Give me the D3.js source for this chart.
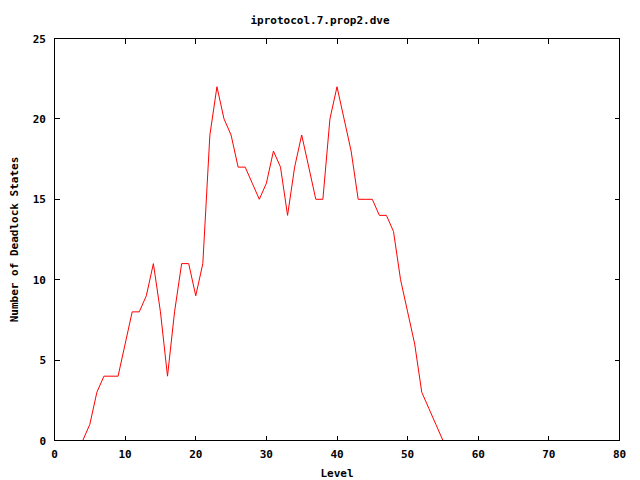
<!DOCTYPE html>
<html>
<head>
<meta charset="utf-8">
<script src="https://cdn.jsdelivr.net/npm/d3@7"></script>
<style>
  body { margin: 0; background: #fff; }
  text { font-family: "DejaVu Sans Mono", monospace; font-weight: bold; font-size: 11px; fill: #000; }
</style>
</head>
<body>
<svg width="640" height="480"></svg>
<script>
var svg = d3.select("svg");

const title = "iprotocol.7.prop2.dve";
const xLabel = "Level";
const yLabel = "Number of Deadlock States";

const levels = [4, 5, 6, 7, 8, 9, 10, 11, 12, 13, 14, 15, 16, 17, 18, 19, 20, 21, 22, 23, 24, 25, 26, 27, 28, 29,
	30, 31, 32, 33, 34, 35, 36, 37, 38, 39, 40, 41, 42, 43, 44, 45, 46, 47, 48, 49, 50, 51, 52, 53, 54, 55];
const deadlocks = [0, 1, 3, 4, 4, 4, 6, 8, 8, 9, 11, 8, 4, 8, 11, 11, 9, 11, 19, 22, 20, 19, 17, 17, 16, 15,
	16, 18, 17, 14, 17, 19, 17, 15, 15, 20, 22, 20, 18, 15, 15, 15, 14, 14, 13, 10, 8, 6, 3, 2, 1, 0];

const xTicks = [0, 10, 20, 30, 40, 50, 60, 70, 80];
const yTicks = [0, 5, 10, 15, 20, 25];

var x = d3.scaleLinear().domain([0, 80]).range([54.5, 619.5]);
var y = d3.scaleLinear().domain([0, 25]).range([440.5, 38.5]);

svg.append("rect").attr("width", 640).attr("height", 480).attr("fill", "#fff");

// title
svg.append("text")
	.attr("x", 320).attr("y", 24)
	.attr("text-anchor", "middle")
	.text(title);

// ticks (inward, mirrored)
const tickLen = 5;
var ticks = svg.append("g").attr("stroke", "#000").attr("shape-rendering", "crispEdges");
xTicks.slice(1, -1).forEach(function(t) {
	ticks.append("line").attr("x1", x(t)).attr("x2", x(t)).attr("y1", y(0)).attr("y2", y(0) - tickLen);
	ticks.append("line").attr("x1", x(t)).attr("x2", x(t)).attr("y1", y(25)).attr("y2", y(25) + tickLen);
});
yTicks.slice(1, -1).forEach(function(t) {
	ticks.append("line").attr("x1", x(0)).attr("x2", x(0) + tickLen).attr("y1", y(t)).attr("y2", y(t));
	ticks.append("line").attr("x1", x(80)).attr("x2", x(80) - tickLen).attr("y1", y(t)).attr("y2", y(t));
});

// tick labels
svg.append("g").selectAll("text")
	.data(xTicks)
	.enter()
	.append("text")
	.attr("x", function(d) { return x(d); })
	.attr("y", 458)
	.attr("text-anchor", "middle")
	.text(function(d) { return d; });

svg.append("g").selectAll("text")
	.data(yTicks)
	.enter()
	.append("text")
	.attr("x", 46)
	.attr("y", function(d) { return y(d) + 4; })
	.attr("text-anchor", "end")
	.text(function(d) { return d; });

// axis labels
svg.append("text")
	.attr("x", x(40)).attr("y", 477)
	.attr("text-anchor", "middle")
	.text(xLabel);

svg.append("text")
	.attr("transform", "translate(18," + y(12.5) + ") rotate(-90)")
	.attr("text-anchor", "middle")
	.text(yLabel);

// data line
var line = d3.line()
	.x(function(d, i) { return x(levels[i]); })
	.y(function(d) { return y(d); });

svg.append("path")
	.datum(deadlocks)
	.attr("d", line)
	.attr("fill", "none")
	.attr("stroke", "#ff0000")
	.attr("stroke-width", 1);

// border
svg.append("rect")
	.attr("x", x(0)).attr("y", y(25))
	.attr("width", x(80) - x(0)).attr("height", y(0) - y(25))
	.attr("fill", "none")
	.attr("stroke", "#000")
	.attr("shape-rendering", "crispEdges");
</script>
</body>
</html>
